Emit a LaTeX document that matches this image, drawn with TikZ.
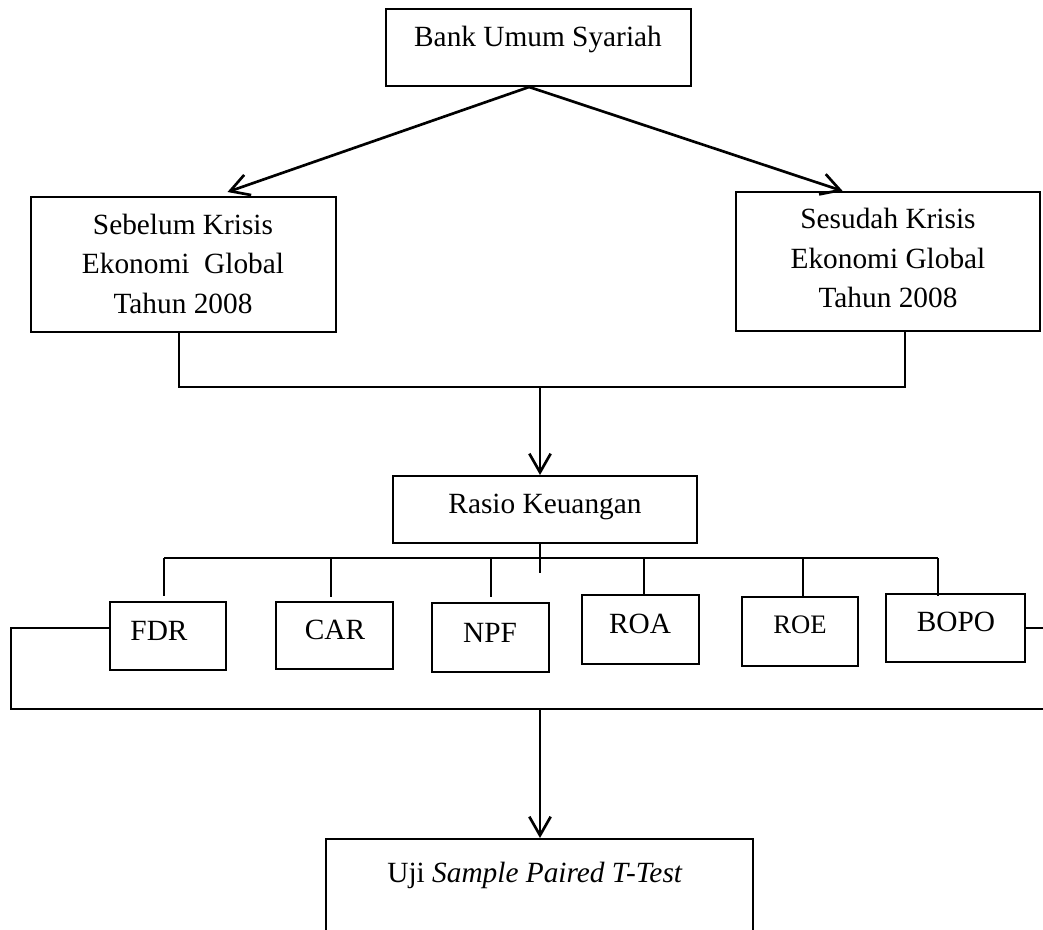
\documentclass[tikz,border=0pt]{standalone}
\usepackage{fontspec}
\setmainfont{Liberation Serif}
\usetikzlibrary{arrows.meta,fit}
\begin{document}
\begin{tikzpicture}[x=0.75pt,y=-0.75pt,
  box/.style={draw, line width=1.5pt, inner sep=0pt},
  lbl/.style={anchor=base, inner sep=0pt, font=\fontsize{22}{30}\selectfont},
  link/.style={line width=1.5pt},
  arr/.style={line width=2pt, -{Straight Barb[length=14pt,width=16pt,line width=2pt]}}]
\useasboundingbox (0,0) rectangle (1043,929);
\clip (0,0) rectangle (1043,929);

% boxes
\node[box, fit={(386,9) (691,86)}] (top) {};
\node[box, fit={(31,197) (336,332)}] (before) {};
\node[box, fit={(736,192) (1040,331)}] (after) {};
\node[box, fit={(393,476) (697,543)}] (ratio) {};
\node[box, fit={(110,602) (226,670)}] (fdr) {};
\node[box, fit={(276,602) (393,669)}] (car) {};
\node[box, fit={(432,603) (549,672)}] (npf) {};
\node[box, fit={(582,595) (699,664)}] (roa) {};
\node[box, fit={(742,597) (858,666)}] (roe) {};
\node[box, fit={(886,594) (1025,662)}] (bopo) {};
\node[box, fit={(326,839) (753,945)}] (test) {};

% texts
\node[lbl] (ttop) at (538,46) {Bank Umum Syariah};
\node[lbl] (tb1) at (183,234) {Sebelum Krisis};
\node[lbl] (tb2) at (183,273) {Ekonomi\ \ Global};
\node[lbl] (tb3) at (183,313) {Tahun 2008};
\node[lbl] (ta1) at (888,228) {Sesudah Krisis};
\node[lbl] (ta2) at (888,268) {Ekonomi Global};
\node[lbl] (ta3) at (888,307) {Tahun 2008};
\node[lbl] (tratio) at (545,513) {Rasio Keuangan};
\node[lbl] (tfdr) at (159,640) {FDR};
\node[lbl] (tcar) at (335,639) {CAR};
\node[lbl] (tnpf) at (490,642) {NPF};
\node[lbl] (troa) at (640,633) {ROA};
\node[lbl, font=\fontsize{20}{26}\selectfont] (troe) at (800,633) {ROE};
\node[lbl] (tbopo) at (956,631) {BOPO};
\node[lbl] (ttest) at (535,882) {Uji \textit{Sample Paired T-Test}};

% coordinates
\coordinate (jm) at (540,387);
\coordinate (busL) at (164,558);
\coordinate (busR) at (938,558);
\coordinate (busM) at (540,558);
\coordinate (stemEnd) at (540,573);
\coordinate (loopTL) at (11,628);
\coordinate (loopBL) at (11,709);
\coordinate (loopBR) at (1043,709);
\coordinate (edgeR) at (1043,628);
\coordinate (jb) at (540,709);

% top arrows
\draw[arr] ([xshift=-7pt]top.south) -- ([xshift=33pt,yshift=3pt]before.north);
\draw[arr] ([xshift=-7pt]top.south) -- ([xshift=-34pt]after.north);

% join of the two periods
\draw[link] ([xshift=-3.4pt]before.south) |- (jm) -| ([xshift=12.75pt]after.south);
\draw[arr] (jm) -- (ratio.north -| jm);

% ratio bus
\draw[link] (ratio.south -| busM) -- (stemEnd);
\draw[link] (busL) -- (busR);
\draw[link] (busL) -- ([yshift=3.75pt]fdr.north -| busL);
\draw[link] (busL -| 331,0) -- ([yshift=3pt]car.north -| 331,0);
\draw[link] (busL -| 491,0) -- ([yshift=3.75pt]npf.north -| 491,0);
\draw[link] (busL -| 644,0) -- ([yshift=-1.5pt]roa.north -| 644,0);
\draw[link] (busL -| 803,0) -- (roe.north -| 803,0);
\draw[link] (busR) -- ([yshift=-2pt]bopo.north -| busR);

% lower loop
\draw[link] ([yshift=6pt]fdr.west) -- (loopTL) -- (loopBL) -- (loopBR);
\draw[link] (bopo.east) -- (edgeR);
\draw[arr] (jb) -- (test.north -| jb);
\end{tikzpicture}
\end{document}
